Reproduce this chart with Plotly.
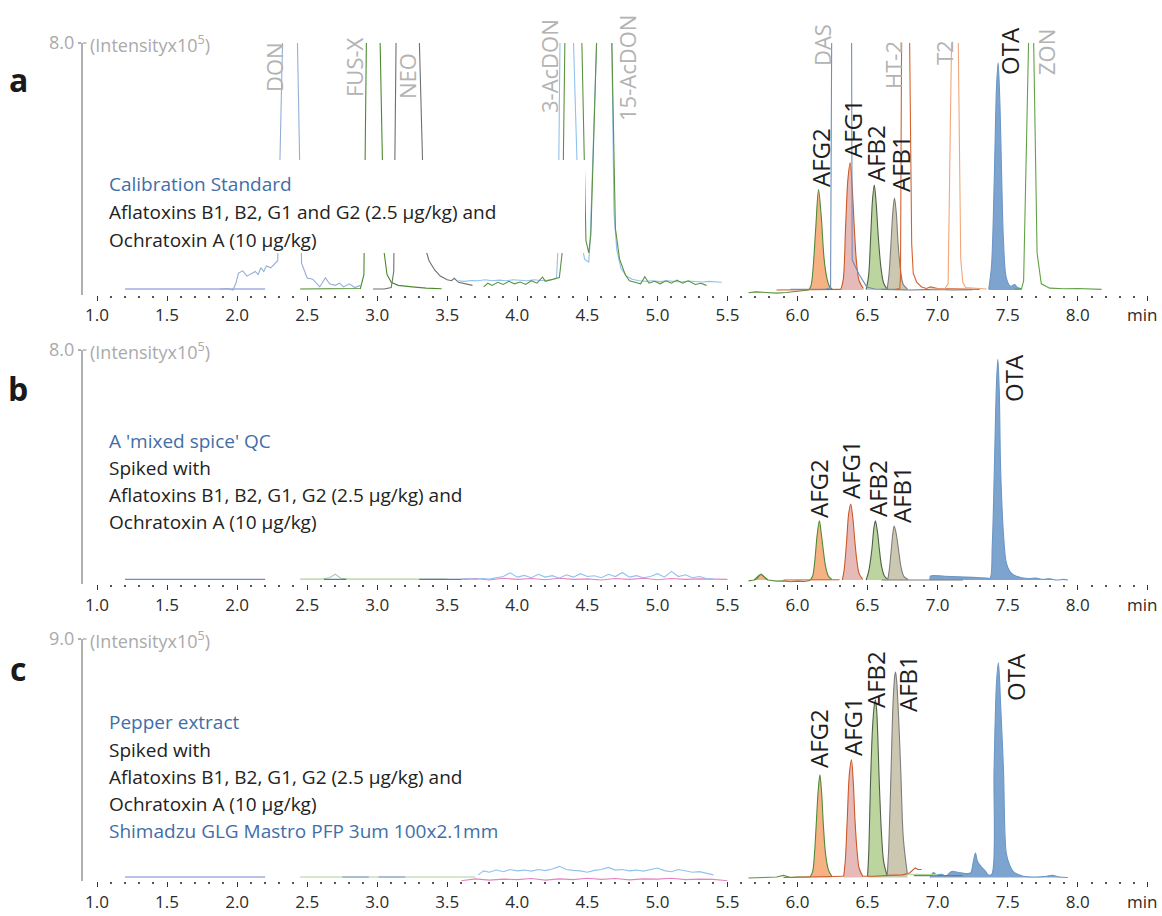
import numpy as np
import plotly.graph_objects as go

W, H = 1162, 916
OFF = 0  # body margin is removed by the post script below
FONT = "Open Sans"

# ---------------- data: (retention time [min], intensity [x1e5]) ----------------
# Panel a - calibration standard
A_BASE = [(1.2, 0.03), (1.5, 0.03), (1.8, 0.04), (2.0, 0.03), (2.2, 0.03)]
A_DON = [(1.88, 0.03), (1.93, 0.05), (1.97, 0.0), (1.99, 0.2), (2.01, 0.55), (2.04, 0.62), (2.07, 0.45),
         (2.10, 0.52), (2.13, 0.6), (2.15, 0.5), (2.17, 0.72), (2.19, 0.6), (2.21, 0.78), (2.24, 0.72),
         (2.27, 0.85), (2.29, 0.95), (2.325, 8.2), (2.38, 40), (2.43, 8.2), (2.46, 0.87), (2.50, 0.39),
         (2.54, 0.35), (2.59, 0.1), (2.63, 0.4), (2.66, 0.2), (2.70, 0.15), (2.73, 0.22), (2.76, 0.1),
         (2.80, 0.2), (2.84, 0.08), (2.88, 0.15)]
A_FUSX = [(2.45, 0.03), (2.6, 0.03), (2.75, 0.03), (2.88, 0.05), (2.905, 0.5), (2.923, 8.2), (2.97, 40),
          (3.02, 8.2), (3.05, 1.2), (3.07, 0.5), (3.10, 0.25), (3.15, 0.15), (3.25, 0.1), (3.35, 0.06), (3.46, 0.04)]
A_NEO = [(2.97, 0.03), (3.05, 0.03), (3.10, 0.08), (3.118, 0.6), (3.135, 8.2), (3.22, 40), (3.30, 8.2),
         (3.34, 1.4), (3.37, 0.95), (3.41, 0.65), (3.45, 0.45), (3.50, 0.33), (3.53, 0.3), (3.55, 0.38),
         (3.58, 0.25), (3.63, 0.2), (3.68, 0.15)]
A_LBLUE = [(3.57, 0.3), (3.62, 0.28), (3.67, 0.31), (3.72, 0.3), (3.77, 0.33), (3.82, 0.3), (3.87, 0.32),
           (3.92, 0.3), (3.97, 0.33), (4.02, 0.31), (4.07, 0.3), (4.12, 0.33), (4.17, 0.31), (4.22, 0.32),
           (4.26, 0.35), (4.28, 0.4), (4.29, 1.3), (4.305, 8.2), (4.35, 40), (4.40, 8.2), (4.44, 2.0),
           (4.48, 1.0), (4.51, 0.9), (4.52, 1.6), (4.567, 8.2), (4.62, 40), (4.674, 8.2), (4.69, 2.5),
           (4.71, 1.3), (4.74, 0.7), (4.78, 0.45), (4.82, 0.35), (4.87, 0.3), (4.92, 0.28), (4.97, 0.3),
           (5.02, 0.27), (5.07, 0.3), (5.12, 0.28), (5.17, 0.26), (5.22, 0.29), (5.27, 0.27), (5.32, 0.26),
           (5.37, 0.28), (5.42, 0.25), (5.46, 0.25)]
A_GREEN = [(3.76, 0.1), (3.79, 0.22), (3.82, 0.15), (3.86, 0.25), (3.9, 0.18), (3.94, 0.28), (3.98, 0.2),
           (4.02, 0.26), (4.06, 0.18), (4.1, 0.3), (4.14, 0.22), (4.18, 0.42), (4.2, 0.28), (4.25, 0.33),
           (4.3, 0.4), (4.32, 1.2), (4.34, 8.2), (4.40, 40), (4.46, 8.2), (4.49, 1.6), (4.51, 1.2),
           (4.525, 1.8), (4.567, 8.2), (4.62, 40), (4.674, 8.2), (4.70, 2.0), (4.73, 1.0), (4.77, 0.5),
           (4.80, 0.3), (4.84, 0.25), (4.88, 0.2), (4.91, 0.43), (4.94, 0.22), (4.98, 0.28), (5.02, 0.2),
           (5.06, 0.3), (5.1, 0.22), (5.14, 0.32), (5.18, 0.22), (5.22, 0.3), (5.27, 0.18), (5.31, 0.22),
           (5.35, 0.15)]
A_GREEN_R = [(5.65, -0.09), (5.7, -0.06), (5.78, -0.08), (5.85, -0.1), (5.92, -0.08), (5.98, -0.05),
             (6.03, -0.02), (6.08, 0.0)]
A_ORANGE_R = [(5.85, 0.0), (6.0, 0.01), (6.1, 0.0), (6.2, 0.01), (6.31, 0.02)]
A_DAS = [(5.95, 0.02), (6.1, 0.02), (6.2, 0.03), (6.236, 0.06), (6.244, 8.2), (6.31, 60), (6.386, 8.2),
         (6.39, 0.97), (6.44, 0.5), (6.494, 0.1), (6.55, 0.03), (6.7, 0.02)]
A_GRAY_R = [(6.6, 0.02), (6.8, 0.0), (7.0, 0.02), (7.1, 0.0), (7.25, 0.01)]
A_HT2 = [(6.70, 0.02), (6.73, 0.05), (6.735, 0.4), (6.743, 8.2), (6.77, 60), (6.80, 8.2), (6.815, 1.5),
         (6.826, 0.55), (6.85, 0.25), (6.886, 0.1), (6.92, 0.05), (6.95, 0.1), (7.0, 0.05), (7.1, 0.04),
         (7.2, 0.05), (7.3, 0.02)]
A_T2 = [(6.95, 0.03), (7.05, 0.03), (7.075, 0.2), (7.10, 8.2), (7.125, 60), (7.147, 8.2), (7.165, 1.0),
        (7.18, 0.25), (7.2, 0.08), (7.3, 0.04), (7.35, 0.03)]
A_ZON = [(7.55, 0.02), (7.6, 0.05), (7.614, 0.3), (7.65, 8.2), (7.667, 60), (7.685, 8.2), (7.71, 1.2),
         (7.74, 0.2), (7.8, 0.06), (7.9, 0.04), (8.0, 0.05), (8.1, 0.03), (8.17, 0.02)]
A_AFG2 = [(6.08, 0.0), (6.097, 0.15), (6.112, 0.75), (6.13, 2.0), (6.15, 3.25), (6.17, 2.35), (6.19, 1.0),
          (6.21, 0.38), (6.23, 0.1), (6.25, 0.02)]
A_AFG1 = [(6.31, 0.02), (6.327, 0.35), (6.343, 2.0), (6.36, 3.6), (6.376, 4.12), (6.39, 3.35), (6.405, 2.05),
          (6.42, 0.95), (6.44, 0.3), (6.47, 0.05)]
A_AFB2 = [(6.49, 0.02), (6.507, 0.45), (6.522, 1.7), (6.535, 2.9), (6.548, 3.4), (6.56, 2.9), (6.577, 1.7),
          (6.595, 0.75), (6.615, 0.22), (6.64, 0.03)]
A_AFB1 = [(6.64, 0.03), (6.653, 0.5), (6.667, 1.5), (6.68, 2.5), (6.692, 2.98), (6.705, 2.5), (6.718, 1.5),
          (6.735, 0.65), (6.755, 0.18), (6.785, 0.03)]
A_OTA = [(7.365, 0.03), (7.385, 0.8), (7.405, 3.7), (7.42, 6.5), (7.432, 7.36), (7.445, 6.0), (7.457, 3.7),
         (7.47, 1.6), (7.49, 0.4), (7.52, 0.12), (7.55, 0.18), (7.57, 0.08), (7.6, 0.04)]

# Panel b - mixed spice QC
B_BASE = [(1.2, 0.02), (1.6, 0.02), (2.0, 0.02), (2.2, 0.02)]
B_GREEN_L = [(2.45, 0.03), (2.6, 0.03), (2.66, 0.08), (2.7, 0.2), (2.74, 0.06), (2.8, 0.03), (3.0, 0.03),
             (3.2, 0.03), (3.4, 0.03), (3.5, 0.03)]
B_DBLUE_L = [(2.62, 0.02), (2.78, 0.02), (None, None), (3.3, 0.02), (3.65, 0.02)]
B_LBLUE = [(3.6, 0.03), (3.65, 0.04), (3.7, 0.02), (3.75, 0.05), (3.8, 0.03), (3.85, 0.08), (3.9, 0.12),
           (3.95, 0.25), (4.0, 0.1), (4.05, 0.16), (4.1, 0.08), (4.15, 0.2), (4.2, 0.1), (4.25, 0.15),
           (4.3, 0.06), (4.35, 0.18), (4.4, 0.1), (4.45, 0.22), (4.5, 0.12), (4.55, 0.15), (4.6, 0.08),
           (4.65, 0.2), (4.7, 0.12), (4.75, 0.26), (4.8, 0.1), (4.85, 0.15), (4.9, 0.08), (4.95, 0.12),
           (5.0, 0.22), (5.05, 0.1), (5.1, 0.3), (5.15, 0.12), (5.2, 0.18), (5.25, 0.08), (5.3, 0.12),
           (5.35, 0.05), (5.4, 0.04)]
B_PINK = [(3.6, 0.02), (3.7, 0.05), (3.8, 0.0), (3.9, 0.06), (4.0, 0.02), (4.1, 0.05), (4.2, 0.01),
          (4.3, 0.06), (4.4, 0.02), (4.5, 0.04), (4.6, 0.0), (4.7, 0.05), (4.8, 0.02), (4.9, 0.06),
          (5.0, 0.01), (5.1, 0.05), (5.2, 0.02), (5.3, 0.04), (5.4, 0.03), (5.5, 0.02)]
B_GREEN_R = [(5.65, -0.03), (5.69, 0.0), (5.72, 0.14), (5.74, 0.2), (5.76, 0.12), (5.79, 0.0), (5.85, -0.04),
             (5.9, -0.03), (5.95, -0.06), (6.0, -0.04), (6.05, -0.05), (6.09, -0.02)]
B_P574 = [(5.69, 0.0), (5.71, 0.05), (5.725, 0.14), (5.74, 0.2), (5.755, 0.14), (5.77, 0.06), (5.79, 0.0)]
B_ORANGE_R = [(5.9, 0.0), (6.05, 0.0), (6.2, 0.0), (6.3, 0.01)]
B_GRAY_R = [(6.6, 0.0), (6.8, 0.01), (7.0, 0.0), (7.18, 0.0)]
B_AFG2 = [(6.09, 0.0), (6.107, 0.12), (6.122, 0.6), (6.14, 1.55), (6.156, 2.06), (6.17, 1.6), (6.185, 1.0),
          (6.2, 0.48), (6.22, 0.14), (6.245, 0.02)]
B_AFG1 = [(6.32, 0.0), (6.333, 0.35), (6.35, 1.31), (6.365, 2.3), (6.38, 2.64), (6.395, 2.15), (6.41, 1.31),
          (6.425, 0.62), (6.44, 0.22), (6.465, 0.02)]
B_AFB2 = [(6.49, 0.0), (6.508, 0.3), (6.53, 1.03), (6.545, 1.8), (6.556, 2.06), (6.57, 1.7), (6.585, 1.03),
          (6.6, 0.48), (6.62, 0.14), (6.645, 0.02)]
B_AFB1 = [(6.645, 0.02), (6.655, 0.35), (6.667, 0.94), (6.68, 1.6), (6.69, 1.88), (6.705, 1.6), (6.724, 0.94),
          (6.74, 0.42), (6.76, 0.12), (6.79, 0.02)]
B_OTA = [(6.946, 0.0), (6.95, 0.14), (7.05, 0.13), (7.15, 0.11), (7.25, 0.09), (7.35, 0.07), (7.374, 0.06),
         (7.39, 1.2), (7.405, 3.83), (7.42, 6.8), (7.43, 7.68), (7.44, 6.6), (7.45, 3.83), (7.47, 1.6),
         (7.49, 0.6), (7.515, 0.3), (7.545, 0.17), (7.6, 0.08), (7.65, 0.05), (7.7, 0.07), (7.75, 0.02),
         (7.8, 0.04), (7.85, 0.0), (7.9, 0.02), (7.93, 0.0)]

# Panel c - pepper extract
C_BASE = [(1.2, 0.02), (1.6, 0.02), (2.0, 0.02), (2.2, 0.02)]
C_LGREEN_L = [(2.45, 0.02), (2.8, 0.02), (3.2, 0.02), (3.7, 0.02)]
C_DBLUE_L = [(2.75, 0.02), (2.94, 0.02), (None, None), (3.01, 0.02), (3.2, 0.02)]
C_LBLUE = [(3.72, 0.1), (3.76, 0.25), (3.8, 0.2), (3.85, 0.28), (3.9, 0.22), (3.95, 0.3), (4.0, 0.25),
           (4.05, 0.28), (4.1, 0.24), (4.15, 0.3), (4.2, 0.26), (4.25, 0.32), (4.3, 0.42), (4.35, 0.3),
           (4.4, 0.27), (4.45, 0.25), (4.5, 0.2), (4.55, 0.27), (4.6, 0.3), (4.65, 0.38), (4.7, 0.28),
           (4.75, 0.3), (4.8, 0.25), (4.85, 0.28), (4.9, 0.24), (4.95, 0.3), (5.0, 0.36), (5.05, 0.26),
           (5.1, 0.22), (5.15, 0.3), (5.2, 0.24), (5.25, 0.2), (5.3, 0.22), (5.35, 0.15), (5.4, 0.1)]
C_PINK = [(3.6, -0.12), (3.7, -0.05), (3.8, -0.1), (3.9, -0.06), (4.0, -0.08), (4.1, -0.04), (4.2, -0.1),
          (4.3, -0.05), (4.4, -0.08), (4.5, -0.03), (4.6, -0.07), (4.7, -0.04), (4.8, -0.09), (4.9, -0.05),
          (5.0, -0.06), (5.1, -0.03), (5.2, -0.08), (5.3, -0.06), (5.4, -0.07), (5.5, -0.12)]
C_GREEN_R = [(5.65, -0.02), (5.75, 0.0), (5.85, 0.02), (5.9, 0.08), (5.95, 0.0), (6.0, 0.02), (6.05, 0.01),
             (6.09, 0.02)]
C_ORANGE_R = [(5.9, 0.0), (6.1, 0.02), (6.33, 0.05), (None, None), (6.46, 0.05), (6.55, 0.05), (6.65, 0.08),
              (6.75, 0.1), (6.8, 0.17), (6.84, 0.36), (6.86, 0.3), (6.886, 0.3)]
C_GRAY_R = [(6.83, 0.07), (7.0, 0.06), (7.18, 0.07)]
C_LGREEN_R = [(6.78, 0.12), (6.9, 0.12), (7.0, 0.11)]
C_AFG2 = [(6.09, 0.02), (6.108, 0.22), (6.122, 0.95), (6.133, 1.94), (6.148, 3.3), (6.16, 3.88), (6.172, 3.2),
          (6.185, 1.94), (6.2, 0.9), (6.22, 0.3), (6.245, 0.04)]
C_AFG1 = [(6.33, 0.05), (6.342, 0.7), (6.355, 2.2), (6.37, 3.9), (6.385, 4.44), (6.398, 3.6), (6.41, 2.2),
          (6.425, 1.0), (6.44, 0.35), (6.465, 0.05)]
C_AFB2 = [(6.5, 0.05), (6.509, 1.0), (6.52, 3.38), (6.535, 5.6), (6.548, 6.5), (6.556, 6.71), (6.565, 6.3),
          (6.585, 3.38), (6.6, 1.6), (6.615, 0.6), (6.64, 0.06)]
C_AFB1 = [(6.64, 0.05), (6.651, 1.1), (6.667, 3.88), (6.682, 6.6), (6.694, 7.6), (6.70, 7.75), (6.708, 7.4),
          (6.722, 6.0), (6.738, 3.88), (6.755, 1.5), (6.785, 0.1)]
C_OTA = [(6.946, 0.0), (6.97, 0.19), (6.99, 0.11), (7.03, 0.12), (7.06, 0.06), (7.1, 0.23), (7.15, 0.19),
         (7.2, 0.15), (7.235, 0.17), (7.255, 0.6), (7.27, 0.92), (7.285, 0.6), (7.31, 0.41), (7.34, 0.25),
         (7.36, 0.1), (7.386, 0.12), (7.403, 4.07), (7.42, 7.3), (7.434, 8.1), (7.45, 6.5), (7.47, 4.07),
         (7.49, 0.92), (7.515, 0.45), (7.54, 0.22), (7.58, 0.1), (7.61, 0.05), (7.7, 0.02), (7.78, 0.05),
         (7.82, 0.08), (7.86, 0.03), (7.93, 0.0)]

# axis ticks
MAJOR_TICKS = [1.0, 1.5, 2.0, 2.5, 3.0, 3.5, 4.0, 4.5, 5.0, 5.5, 6.0, 6.5, 7.0, 7.5, 8.0, 8.5]
MAJOR_LABELS = ["1.0", "1.5", "2.0", "2.5", "3.0", "3.5", "4.0", "4.5", "5.0", "5.5", "6.0", "6.5",
                "7.0", "7.5", "8.0", ""]
X_UNIT = "min"
Y_TOPS = [8.0, 8.0, 9.0]

# ---------------- styling ----------------
C_PURPLE = "#7584d6"
C_DONC = "#93aed6"
C_FUSXC = "#4b8a2c"
C_NEOC = "#6f6f6f"
C_LB = "#8fc2ec"
C_GR = "#5b9140"
C_DASC = "#6f8eb8"
C_HT2C = "#d4622d"
C_T2C = "#f3a679"
C_ZONC = "#62a047"
C_PK = "#e684c2"
C_DB = "#5b74c0"
C_LG = "#a9d49a"
C_GRY = "#7a7a7a"
C_ORR = "#cf5b2a"

PEAK_STYLE = {
    "AFG2": ("#f6b283", "#4f8a35"),
    "AFG1": ("#e7baba", "#cd5726"),
    "AFB2": ("#bcd59f", "#4f6049"),
    "AFB1": ("#cbc7b0", "#7d7d7d"),
    "OTA": ("#7ca4cf", "#6b96c6"),
}

PX_PER_MIN = 140.1
X_RANGE = [0.9, 8.55]
X0_PX = 83
X1_PX = X0_PX + (X_RANGE[1] - X_RANGE[0]) * PX_PER_MIN
# (top px for top value, px for zero) in screenshot pixels
PANEL_PX = [(43, 290), (350, 580), (639, 877.5)]
Y_BOTTOM = -0.15

fig = go.Figure()


def unz(pairs):
    return [p[0] for p in pairs], [p[1] for p in pairs]


def add_line(k, pairs, color, width=1.1):
    t, v = unz(pairs)
    ax = "" if k == 1 else str(k)
    fig.add_trace(go.Scatter(x=t, y=v, mode="lines", xaxis="x" + ax, yaxis="y" + ax,
                             line=dict(color=color, width=width), showlegend=False,
                             hoverinfo="skip", connectgaps=False))


def add_peak(k, pairs, name):
    t, v = unz(pairs)
    fillc, linec = PEAK_STYLE[name]
    ax = "" if k == 1 else str(k)
    fig.add_trace(go.Scatter(x=t, y=v, mode="lines", xaxis="x" + ax, yaxis="y" + ax, fill="tozeroy",
                             fillcolor=fillc, line=dict(color=linec, width=1.1, shape="spline", smoothing=0.9),
                             showlegend=False, hoverinfo="skip"))


# panel a
add_peak(1, A_AFG2, "AFG2")
add_peak(1, A_AFG1, "AFG1")
add_peak(1, A_AFB2, "AFB2")
add_peak(1, A_AFB1, "AFB1")
add_peak(1, A_OTA, "OTA")
add_line(1, A_BASE, C_PURPLE)
add_line(1, A_DON, C_DONC)
add_line(1, A_NEO, C_NEOC)
add_line(1, A_FUSX, C_FUSXC)
add_line(1, A_LBLUE, C_LB)
add_line(1, A_GREEN, C_GR)
add_line(1, A_GREEN_R, C_GR)
add_line(1, A_ORANGE_R, C_ORR)
add_line(1, A_GRAY_R, C_GRY)
add_line(1, A_DAS, C_DASC)
add_line(1, A_HT2, C_HT2C)
add_line(1, A_T2, C_T2C)
add_line(1, A_ZON, C_ZONC)

# panel b
add_peak(2, B_P574, "AFG2")
add_peak(2, B_AFG2, "AFG2")
add_peak(2, B_AFG1, "AFG1")
add_peak(2, B_AFB2, "AFB2")
add_peak(2, B_AFB1, "AFB1")
add_peak(2, B_OTA, "OTA")
add_line(2, B_BASE, C_PURPLE)
add_line(2, B_GREEN_L, C_LG)
add_line(2, B_DBLUE_L, C_DB)
add_line(2, B_PINK, C_PK)
add_line(2, B_LBLUE, C_LB)
add_line(2, B_GREEN_R, C_GR)
add_line(2, B_ORANGE_R, C_ORR)
add_line(2, B_GRAY_R, C_GRY)

# panel c
add_peak(3, C_AFG2, "AFG2")
add_peak(3, C_AFG1, "AFG1")
add_peak(3, C_AFB2, "AFB2")
add_peak(3, C_AFB1, "AFB1")
add_peak(3, C_OTA, "OTA")
add_line(3, C_BASE, C_PURPLE)
add_line(3, C_LGREEN_L, C_LG)
add_line(3, C_DBLUE_L, "#8096d0")
add_line(3, C_PINK, C_PK)
add_line(3, C_LBLUE, C_LB)
add_line(3, C_GREEN_R, C_GR)
add_line(3, C_ORANGE_R, C_ORR)
add_line(3, C_GRAY_R, C_GRY)
add_line(3, C_LGREEN_R, C_LG)

minor_ticks = [round(v, 1) for v in np.arange(1.1, 8.5, 0.1) if abs(round(v * 2) - v * 2) > 1e-6]


def fx(x):
    return (x - OFF) / W


def fy(y):
    return 1 - (y - OFF) / H


layout = dict(width=W, height=H, margin=dict(l=0, r=0, t=0, b=0, pad=0, autoexpand=False),
              paper_bgcolor="white", plot_bgcolor="rgba(0,0,0,0)", font=dict(family=FONT),
              showlegend=False, template="none")

for k, ((ptop, pzero), top) in enumerate(zip(PANEL_PX, Y_TOPS), start=1):
    scale = (pzero - ptop) / top
    pbot = pzero - Y_BOTTOM * scale
    sfx = "" if k == 1 else str(k)
    layout["xaxis" + sfx] = dict(
        domain=[fx(X0_PX), fx(X1_PX)], range=X_RANGE, anchor="y" + sfx, showgrid=False,
        zeroline=False, showline=False, automargin=False, ticks="outside", tickmode="array",
        tickvals=MAJOR_TICKS, ticktext=MAJOR_LABELS, ticklen=5, tickwidth=1.3, tickcolor="#333",
        ticklabeloverflow="allow",
        tickfont=dict(family=FONT, size=17, color="#2b2b2b"),
        minor=dict(tickmode="array", tickvals=minor_ticks, ticks="outside", ticklen=2, tickwidth=1.5,
                   tickcolor="#555", showgrid=False))
    layout["yaxis" + sfx] = dict(
        domain=[fy(pbot), fy(ptop)], range=[Y_BOTTOM, top], anchor="x" + sfx,
        showgrid=False, zeroline=False, showline=True, automargin=False, linecolor="#b0b0b0", linewidth=2,
        ticks="outside", tickmode="array", tickvals=[top], ticktext=[f"{top:.1f}"], ticklen=3,
        tickwidth=1.5, tickcolor="#b0b0b0", tickfont=dict(family=FONT, size=18, color="#aaaaaa"))

fig.update_layout(**layout)

annotations = []
shapes = []


def text(x, y, s, size=19, color="#222", xanchor="left", angle=0, yanchor="middle"):
    annotations.append(dict(x=fx(x), y=fy(y), xref="paper", yref="paper", text=s, showarrow=False,
                            xanchor=xanchor, yanchor=yanchor, textangle=angle,
                            font=dict(family=FONT, size=size, color=color)))


# white box behind panel a text (covers the off-scale peaks)
shapes.append(dict(type="rect", xref="paper", yref="paper", x0=fx(100), x1=fx(585), y0=fy(253), y1=fy(160),
                   fillcolor="white", line=dict(width=0), layer="above"))

BLUE_T = "#3f6ea8"
GRAY_L = "#b3b3b3"

# panel letters, intensity labels, y-axis T caps, unit label
for (ptop, pzero), letter, ly in zip(PANEL_PX, ["a", "b", "c"], [80, 388, 668]):
    text(18, ly, "<b>" + letter + "</b>", size=32, color="#1a1a1a", xanchor="center")
    text(88, ptop + 1, "(Intensityx10<sup>5</sup>)", size=18, color="#aaaaaa")
    shapes.append(dict(type="line", xref="paper", yref="paper", x0=fx(X0_PX), x1=fx(X0_PX + 3.5),
                       y0=fy(ptop), y1=fy(ptop), line=dict(color="#b0b0b0", width=1.5)))
    text(1142, pzero + 24, X_UNIT, size=17, color="#2b2b2b", xanchor="center")

# description text
text(107, 184, "Calibration Standard", color=BLUE_T)
text(107, 212, "Aflatoxins B1, B2, G1 and G2 (2.5 µg/kg) and")
text(107, 240, "Ochratoxin A (10 µg/kg)")
text(107, 441, "A 'mixed spice' QC", color=BLUE_T)
text(107, 468, "Spiked with")
text(107, 495, "Aflatoxins B1, B2, G1, G2 (2.5 µg/kg) and")
text(107, 522, "Ochratoxin A (10 µg/kg)")
text(107, 722, "Pepper extract", color=BLUE_T)
text(107, 750, "Spiked with")
text(107, 777, "Aflatoxins B1, B2, G1, G2 (2.5 µg/kg) and")
text(107, 804, "Ochratoxin A (10 µg/kg)")
text(107, 831, "Shimadzu GLG Mastro PFP 3um 100x2.1mm", color=BLUE_T)

# rotated peak labels
GRAY_LABELS = [("DON", 274, 67), ("FUS-X", 354, 67), ("NEO", 407, 76), ("3-AcDON", 549, 66),
               ("15-AcDON", 627, 68), ("DAS", 822, 45), ("HT-2", 893, 65), ("T2", 944, 53), ("ZON", 1046, 52)]
for s, x, y in GRAY_LABELS:
    text(x, y, s, size=22, color=GRAY_L, xanchor="center", angle=-90)

BLACK_LABELS = [("AFG2", 820, 158), ("AFG1", 852, 128), ("AFB2", 875, 154), ("AFB1", 901, 164),
                ("OTA", 1009, 51),
                ("AFG2", 818, 488), ("AFG1", 850, 470), ("AFB2", 877, 489), ("AFB1", 902, 495),
                ("OTA", 1013, 378),
                ("AFG2", 818, 738), ("AFG1", 852, 726), ("AFB2", 875, 680), ("AFB1", 907, 684),
                ("OTA", 1015, 677)]
for s, x, y in BLACK_LABELS:
    text(x, y, s, size=24, color="#1e1e1e", xanchor="center", angle=-90)

fig.update_layout(annotations=annotations, shapes=shapes)
fig.write_html("out.html", config={"displayModeBar": False},
               post_script="document.body.style.margin='0px';document.body.style.overflow='hidden';")
